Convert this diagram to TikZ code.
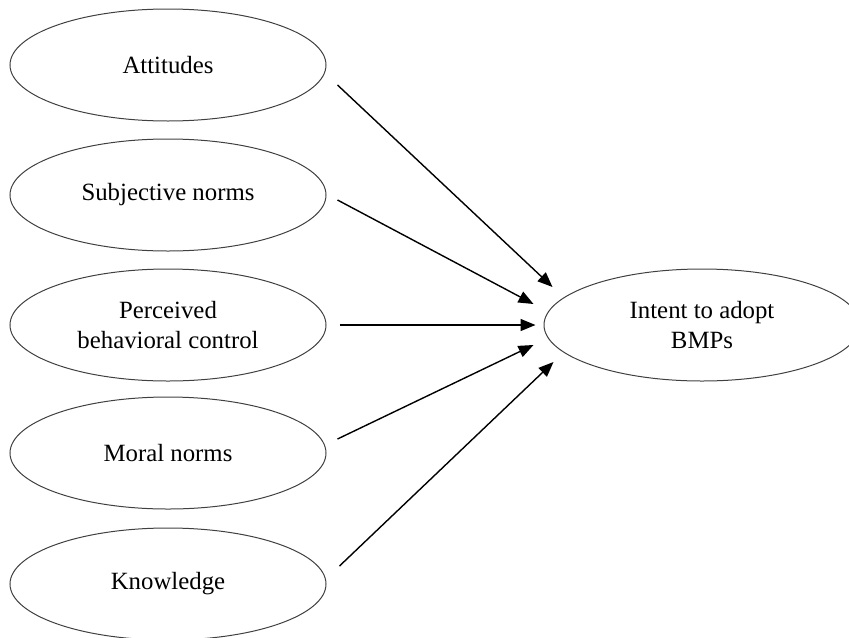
\documentclass[tikz,border=0pt]{standalone}
\usepackage{fontspec}
\setmainfont{Liberation Serif}
\usetikzlibrary{arrows.meta, positioning, shapes.geometric}

\begin{document}
\begin{tikzpicture}[
		oval/.style={ellipse,draw=black!75,line width=0.5pt,minimum width=158pt,
		minimum height=56pt,inner sep=0pt,align=center,
		font=\fontsize{12.4}{15.2}\selectfont},
		link/.style={line width=0.7pt,-{Triangle[length=7.5pt,width=6pt]}}
		]
		\useasboundingbox (0,0) rectangle (424.5pt,-318.5pt);

		\node[oval](F0) at (84pt,-32.5pt){Attitudes};
		\node[oval, below = 8.5pt of F0](F1){Subjective norms};
		\node[oval, below = 8.5pt of F1](F2){Perceived\\behavioral control};
		\node[oval, below = 7.5pt of F2](F3){Moral norms};
		\node[oval, below = 9pt of F3](F4){Knowledge};
		\node[oval, right = 108.5pt of F2](T){Intent to adopt\\BMPs};

		\draw[link] ([shift={(5.5pt,-10pt)}]F0.east) -- ([shift={(4.5pt,19pt)}]T.west);
		\draw[link] ([shift={(5.5pt,-2.5pt)}]F1.east) -- ([shift={(-5pt,10.5pt)}]T.west);
		\draw[link] ([shift={(6.5pt,0pt)}]F2.east) -- ([shift={(-4pt,0pt)}]T.west);
		\draw[link] ([shift={(5.5pt,7pt)}]F3.east) -- ([shift={(-5pt,-10pt)}]T.west);
		\draw[link] ([shift={(6.5pt,9pt)}]F4.east) -- ([shift={(5pt,-18.5pt)}]T.west);

	\end{tikzpicture}
\end{document}
